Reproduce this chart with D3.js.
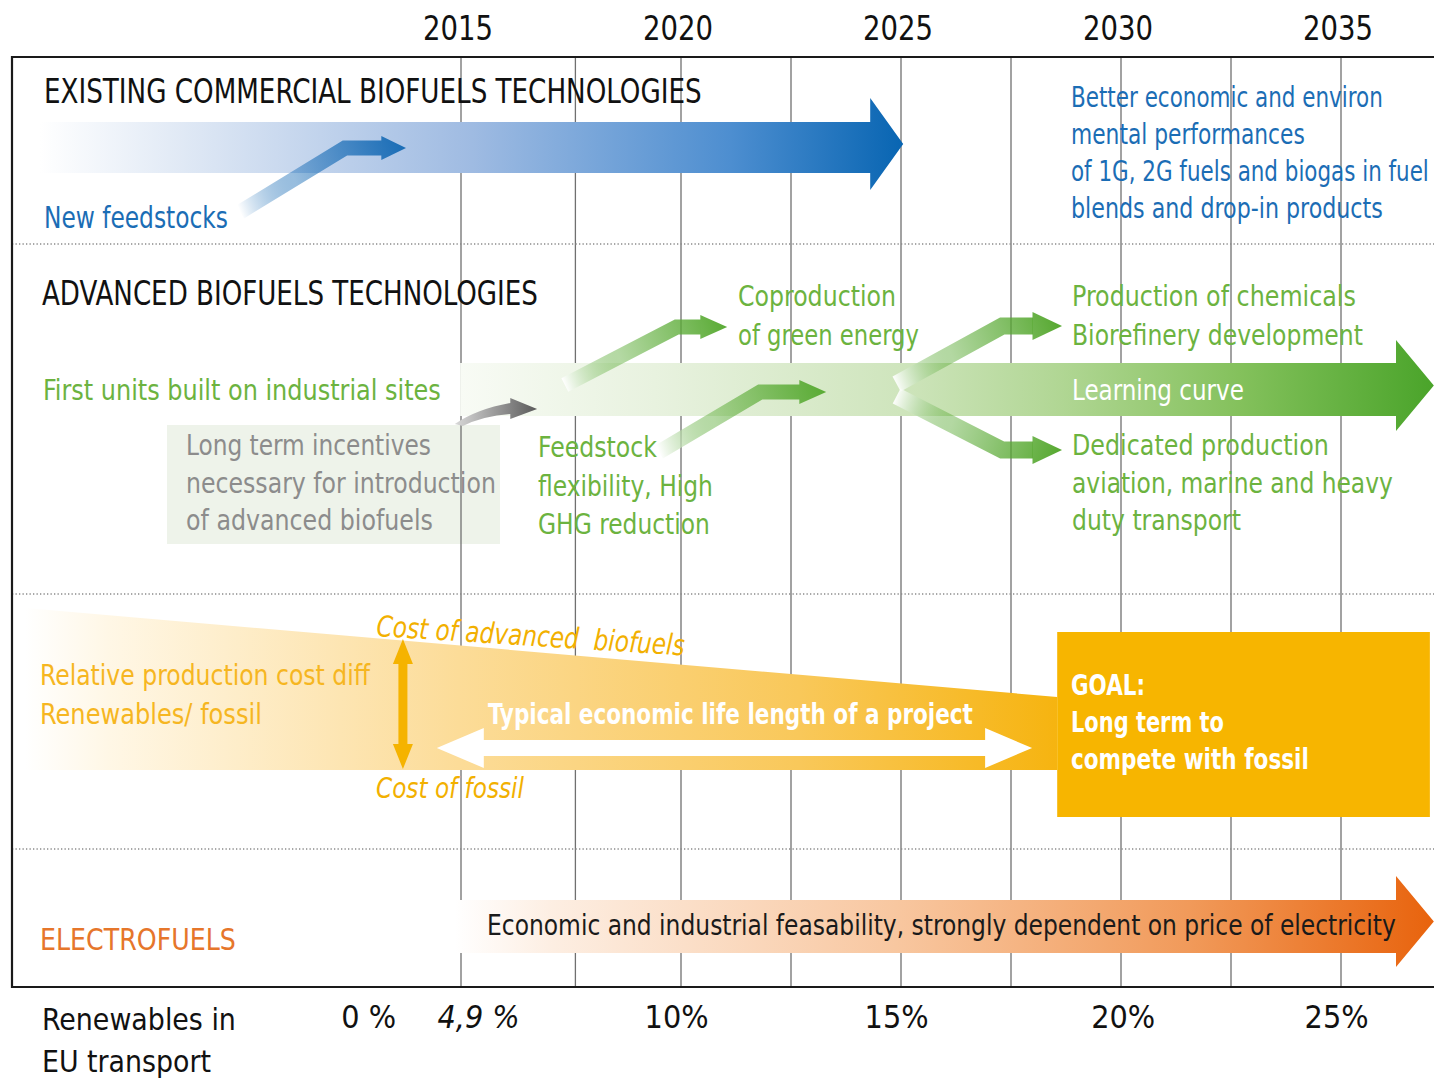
<!DOCTYPE html>
<html><head><meta charset="utf-8">
<script src="https://cdn.jsdelivr.net/npm/d3@7"></script>
<style>
html,body{margin:0;padding:0;background:#fff;}
svg{display:block;}
text{font-family:"DejaVu Sans Condensed","Roboto",sans-serif;}
</style></head><body>
<svg id="chart" width="1434" height="1080"></svg>
<script>
// ---------------- data ----------------
const yearTicks = [2015, 2020, 2025, 2030, 2035];
const gridYears = [2015, 2017.6, 2020, 2022.5, 2025, 2027.5, 2030, 2032.5, 2035];
const shareLabels = ["0 %", "4,9 %", "10%", "15%", "20%", "25%"];
const shareYears = [2012.9, 2015.4, 2019.9, 2024.9, 2030.05, 2034.9];
const shareItalic = [false, true, false, false, false, false];
const sectionTitles = ["EXISTING COMMERCIAL BIOFUELS TECHNOLOGIES", "ADVANCED BIOFUELS TECHNOLOGIES"];
const blueNotes = ["Better economic and environ", "mental performances", "of 1G, 2G fuels and biogas in fuel", "blends and drop-in products"];
const incentiveLines = ["Long term incentives", "necessary for introduction", "of advanced biofuels"];
const feedstockLines = ["Feedstock", "flexibility, High", "GHG reduction"];
const coproLines = ["Coproduction", "of green energy"];
const chemLines = ["Production of chemicals", "Biorefinery development"];
const dedicatedLines = ["Dedicated production", "aviation, marine and heavy", "duty transport"];
const costDiffLines = ["Relative production cost diff", "Renewables/ fossil"];
const goalLines = ["GOAL:", "Long term to", "compete with fossil"];
const axisTitleLines = ["Renewables in", "EU transport"];

// arrows (x in years)
const mainArrows = [
  {id:"blue",  x0:2005.43, x1:2024.3, x2:2025.05, top:122, bot:173, htop:98, hbot:190},
  {id:"green", x0:2014.98, x1:2036.25, x2:2037.11, top:363, bot:416, htop:340, hbot:431},
  {id:"orng",  x0:2014.86, x1:2036.25, x2:2037.11, top:900, bot:953, htop:876, hbot:967}
];
const branchArrows = [
  {id:"b1", color:"#1a6db6", pts:[[2009.98,212],[2012.36,148],[2013.2,148]], tip:2013.75, w:15, hh:12},
  {id:"g1", color:"#5aab35", pts:[[2017.36,385],[2019.9,327],[2020.45,327]], tip:2021.05, w:15, hh:12},
  {id:"g2", color:"#5aab35", pts:[[2019.5,452],[2021.8,392],[2022.7,392]], tip:2023.3, w:15, hh:12},
  {id:"g3", color:"#56a830", pts:[[2024.9,384],[2027.3,326],[2028.0,326]], tip:2028.66, w:17, hh:14},
  {id:"g4", color:"#56a830", pts:[[2024.9,396],[2027.3,450],[2028.0,450]], tip:2028.66, w:17, hh:14}
];

// ---------------- layout ----------------
const x = d3.scaleLinear().domain([2015, 2035]).range([461, 1341]);
const frame = {left:12, top:57, bottom:987, right:1434};
const seps = [244, 594, 849];
// rendered widths of text lines (px), matched to the reference
const widths = {
  "EXISTING COMMERCIAL BIOFUELS TECHNOLOGIES":658, "New feedstocks":184,
  "Better economic and environ":312, "mental performances":234, "of 1G, 2G fuels and biogas in fuel":358, "blends and drop-in products":312,
  "ADVANCED BIOFUELS TECHNOLOGIES":496, "First units built on industrial sites":398,
  "Long term incentives":245, "necessary for introduction":310, "of advanced biofuels":247,
  "Feedstock":119, "flexibility, High":175, "GHG reduction":172,
  "Coproduction":158, "of green energy":181,
  "Production of chemicals":284, "Biorefinery development":291, "Learning curve":172,
  "Dedicated production":257, "aviation, marine and heavy":321, "duty transport":169,
  "Relative production cost diff":330, "Renewables/ fossil":222,
  "Cost of advanced  biofuels":309,
  "Cost of fossil":148, "Typical economic life length of a project":485,
  "GOAL:":74, "Long term to":153, "compete with fossil":238,
  "ELECTROFUELS":196, "Economic and industrial feasability, strongly dependent on price of electricity":909,
  "Renewables in":194, "EU transport":169
};

const svg = d3.select("#chart");
const defs = svg.append("defs");

function linGrad(id, x1, y1, x2, y2, stops){
  const g = defs.append("linearGradient").attr("id", id)
    .attr("gradientUnits","userSpaceOnUse")
    .attr("x1",x1).attr("y1",y1).attr("x2",x2).attr("y2",y2);
  stops.forEach(s => g.append("stop").attr("offset", s[0]).attr("stop-color", s[1]).attr("stop-opacity", s[2]===undefined?1:s[2]));
  return "url(#"+id+")";
}

// incentive box (under grid)
svg.append("rect").attr("x",167).attr("y",425).attr("width",333).attr("height",119).attr("fill","#eef3ea");

// grid lines
svg.append("g").selectAll("line").data(gridYears).join("line")
  .attr("x1", d=>x(d)).attr("x2", d=>x(d))
  .attr("y1", frame.top).attr("y2", frame.bottom)
  .attr("stroke","#707070").attr("stroke-width",1.3);

// separators
svg.append("g").selectAll("line").data(seps).join("line")
  .attr("x1", frame.left).attr("x2", frame.right)
  .attr("y1", d=>d).attr("y2", d=>d)
  .attr("stroke","#8a8a8a").attr("stroke-width",1.3).attr("stroke-dasharray","1.3,2.2");

// frame
svg.append("path").attr("d", `M${frame.right},${frame.top}H${frame.left}V${frame.bottom}H${frame.right}`)
  .attr("fill","none").attr("stroke","#1a1a1a").attr("stroke-width",2.2);

// year ticks
svg.append("g").selectAll("text").data(yearTicks).join("text")
  .attr("x", d=>x(d)-3).attr("y", 40).attr("text-anchor","middle")
  .attr("font-size", 33).attr("fill","#111")
  .attr("textLength", 70).attr("lengthAdjust","spacingAndGlyphs").text(d=>d);

// wedge (cost difference)
const wedgeFill = linGrad("gWedge", 25, 0, 1057, 0, [[0,"#ffffff"],[0.08,"#fff7e6"],[0.42,"#fcdc98"],[0.75,"#f9c85a"],[1,"#f6b410"]]);
svg.append("path")
  .attr("d", `M${x(2005.1)},608 L${x(2028.55)},697 L${x(2028.55)},770 L${x(2005.1)},770 Z`)
  .attr("fill", wedgeFill);

// main arrows
const mainFills = {
  blue: linGrad("gBlue", x(2005.43),0,x(2025.05),0, [[0,"#ffffff"],[0.15,"#e3ebf6"],[0.5,"#9fbbe2"],[0.8,"#4d8ed0"],[1,"#0865b2"]]),
  green: linGrad("gGreen", x(2014.98),0,x(2037.11),0, [[0,"#f8fbf5"],[0.2,"#e8f2df"],[0.45,"#cfe5bd"],[0.62,"#b0d693"],[0.8,"#84c15c"],[1,"#4aa42a"]]),
  orng: linGrad("gOrng", x(2014.86),0,x(2037.11),0, [[0,"#ffffff"],[0.1,"#fdeee2"],[0.45,"#f8c7a0"],[0.75,"#f19a5a"],[1,"#e8630d"]])
};
svg.append("g").selectAll("path").data(mainArrows).join("path")
  .attr("d", d => {
    const my = (d.htop + d.hbot)/2;
    return `M${x(d.x0)},${d.top} L${x(d.x1)},${d.top} L${x(d.x1)},${d.htop} L${x(d.x2)},${my} L${x(d.x1)},${d.hbot} L${x(d.x1)},${d.bot} L${x(d.x0)},${d.bot} Z`;
  })
  .attr("fill", d => mainFills[d.id]);

// gray small arrow
const grayFill = linGrad("gGray", x(2014.86), 0, x(2016.73), 0, [[0,"#d8d8d8"],[1,"#5a5a5a"]]);
const gx0 = x(2014.86), gxb = x(2016.12), gxt = x(2016.73);
svg.append("path")
  .attr("d", `M${gx0},424 Q${gx0+22},409 ${gxb},403 L${gxb},398 L${gxt},409 L${gxb},419 L${gxb},414 Q${gx0+28},416 ${gx0+8},426 Z`)
  .attr("fill", grayFill);

// branch arrows
branchArrows.forEach(a => {
  const p = a.pts.map(q => [x(q[0]), q[1]]);
  const last = p[p.length-1];
  const tipX = x(a.tip);
  const fill = linGrad("gr_"+a.id, p[0][0], p[0][1], tipX, last[1], [[0,"#ffffff",0.9],[0.35,a.color,0.45],[1,a.color,1]]);
  const g = svg.append("g");
  g.append("path").attr("d", d3.line()(p)).attr("fill","none")
    .attr("stroke", fill).attr("stroke-width", a.w).attr("stroke-linejoin","miter");
  g.append("path").attr("d", `M${last[0]-0.5},${last[1]-a.hh} L${tipX},${last[1]} L${last[0]-0.5},${last[1]+a.hh} Z`).attr("fill", fill);
});

// goal box
svg.append("rect").attr("x", x(2028.55)).attr("y",632).attr("width", x(2037.02)-x(2028.55)).attr("height",185).attr("fill","#f7b500");

// white double arrow (project life)
const lifeX0 = x(2014.45), lifeX1 = x(2027.98), lifeY = 748;
svg.append("path")
  .attr("d", `M${lifeX0},${lifeY} L${lifeX0+47},${lifeY-20} L${lifeX0+47},${lifeY-8} L${lifeX1-47},${lifeY-8} L${lifeX1-47},${lifeY-20} L${lifeX1},${lifeY} L${lifeX1-47},${lifeY+20} L${lifeX1-47},${lifeY+8} L${lifeX0+47},${lifeY+8} L${lifeX0+47},${lifeY+20} Z`)
  .attr("fill","#ffffff");

// orange vertical double arrow
const vx = x(2013.68);
svg.append("path")
  .attr("d", `M${vx},639 L${vx+10},664 L${vx+4.5},664 L${vx+4.5},744 L${vx+10},744 L${vx},769 L${vx-10},744 L${vx-4.5},744 L${vx-4.5},664 L${vx-10},664 Z`)
  .attr("fill","#f5b300");

// ---------------- texts ----------------
// each line is horizontally scaled so its width matches the reference
function fitText(parent, s, tx, ty, rot, opts){
  const g = parent.append("g").attr("transform", `translate(${tx},${ty}) rotate(${rot})`);
  const t = g.append("text").attr("x", 0).attr("y", 0)
    .attr("font-size", opts.size).attr("fill", opts.fill)
    .attr("font-weight", opts.weight || "normal")
    .attr("font-style", opts.style || "normal")
    .attr("xml:space","preserve").text(s);
  const target = widths[s];
  if (target) {
    const nat = t.node().getComputedTextLength();
    if (nat > 0) t.attr("transform", `scale(${target/nat},1)`);
  }
  return t;
}
function lines(arr, x0, y0, dy, opts){
  const g = svg.append("g");
  arr.forEach((s,i) => fitText(g, s, x0, y0 + i*dy, 0, opts));
  return g;
}
lines([sectionTitles[0]], 44, 103, 0, {size:34, fill:"#111"});
lines(["New feedstocks"], 44, 228, 0, {size:30, fill:"#1b6db5"});
lines(blueNotes, 1071, 107, 37, {size:29, fill:"#1b6db5"});

lines([sectionTitles[1]], 42, 305, 0, {size:34, fill:"#111"});
lines(["First units built on industrial sites"], 43, 400, 0, {size:29, fill:"#6cb33f"});
lines(incentiveLines, 186, 455, 37.5, {size:29, fill:"#8c8c8c"});
lines(feedstockLines, 538, 457, 38.5, {size:29, fill:"#6cb33f"});
lines(coproLines, 738, 306, 39, {size:29, fill:"#6cb33f"});
lines(chemLines, 1072, 306, 39, {size:29, fill:"#6cb33f"});
lines(["Learning curve"], 1072, 400, 0, {size:29, fill:"#ffffff"});
lines(dedicatedLines, 1072, 455, 37.5, {size:29, fill:"#6cb33f"});

lines(costDiffLines, 40, 685, 39, {size:29, fill:"#f6b621"});
fitText(svg, "Cost of advanced  biofuels", 376, 636, 3.6, {size:29, fill:"#f2b000", style:"italic"});
lines(["Cost of fossil"], 376, 798, 0, {size:29, fill:"#f2b000", style:"italic"});
lines(["Typical economic life length of a project"], 488, 724, 0, {size:28, fill:"#ffffff", weight:"bold"});
lines(goalLines, 1071, 695, 37, {size:28, fill:"#ffffff", weight:"bold"});

lines(["ELECTROFUELS"], 40, 950, 0, {size:31, fill:"#e6762b"});
lines(["Economic and industrial feasability, strongly dependent on price of electricity"], 487, 935, 0, {size:28, fill:"#1a1a1a"});

lines(axisTitleLines, 42, 1030, 42, {size:31, fill:"#111"});
svg.append("g").selectAll("text").data(shareLabels).join("text")
  .attr("x", (d,i)=>x(shareYears[i])).attr("y", 1028).attr("text-anchor","middle")
  .attr("font-size", 32).attr("fill","#111")
  .attr("font-style", (d,i)=> shareItalic[i] ? "italic" : "normal")
  .text(d=>d);
</script>
</body></html>
